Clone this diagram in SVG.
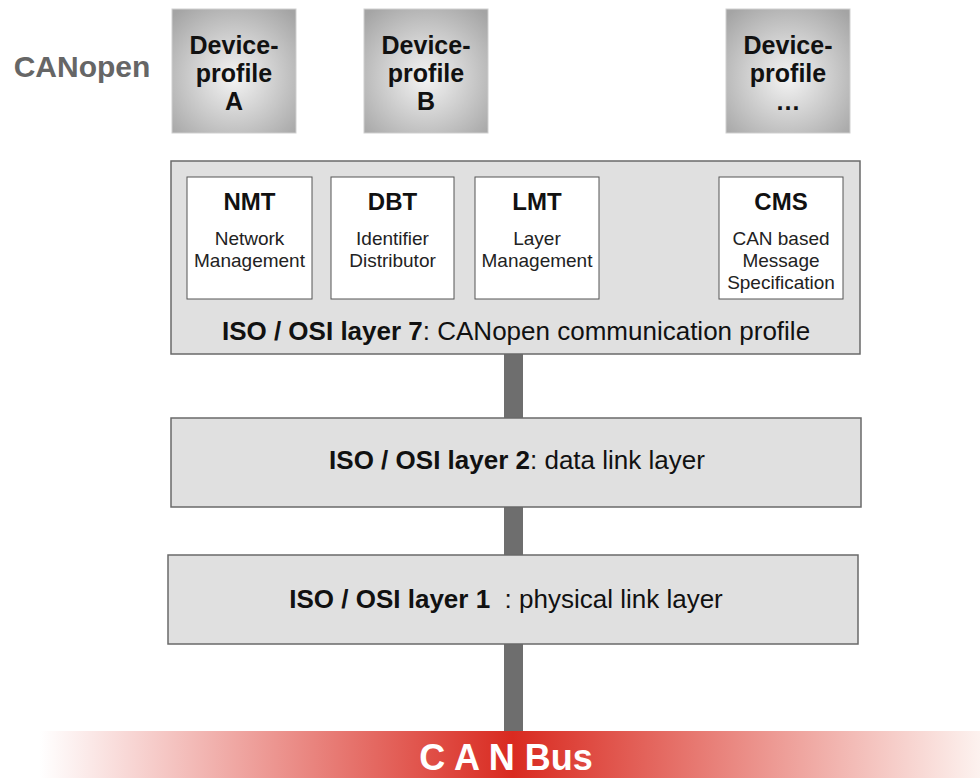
<svg xmlns="http://www.w3.org/2000/svg" width="980" height="778" viewBox="0 0 980 778">
<defs>
<radialGradient id="dev" cx="50%" cy="55%" r="70%">
<stop offset="0" stop-color="#f4f4f4"/>
<stop offset="1" stop-color="#a4a4a4"/>
</radialGradient>
<linearGradient id="bus" gradientUnits="userSpaceOnUse" x1="40" y1="0" x2="985" y2="0">
<stop offset="0" stop-color="#ffffff"/>
<stop offset="0.5" stop-color="#d92a20"/>
<stop offset="1" stop-color="#fdf4f1"/>
</linearGradient>
<style>
text{font-family:"Liberation Sans",Arial,sans-serif;}
.dev{fill:url(#dev);stroke:#cfcfcf;stroke-width:1;}
.devt{font-size:25px;font-weight:bold;fill:#111;text-anchor:middle;}
.layer{fill:#e0e0e0;stroke:#6a6a6a;stroke-width:1.5;}
.sub{fill:#ffffff;stroke:#555;stroke-width:1;}
.subt{font-size:24px;font-weight:bold;fill:#111;text-anchor:middle;}
.subs{font-size:19px;fill:#222;text-anchor:middle;}
.lt{font-size:26px;fill:#111;text-anchor:middle;}
.b{font-weight:bold;}
.bar{fill:#6e6e6e;}
</style>
</defs>
<rect width="980" height="778" fill="#ffffff"/>
<text id="canopen-label" x="82" y="77" font-size="30" font-weight="bold" fill="#666" text-anchor="middle">CANopen</text>
<g id="connectors">
<rect class="bar" x="504" y="354" width="19" height="64"/>
<rect class="bar" x="504" y="507" width="19" height="48"/>
<rect class="bar" x="504" y="644" width="19" height="88"/>
</g>
<g id="device-a">
<rect class="dev" x="172" y="9" width="124" height="124"/>
<text class="devt" x="234" y="54">Device-</text>
<text class="devt" x="234" y="82">profile</text>
<text class="devt" x="234" y="110">A</text>
</g>
<g id="device-b">
<rect class="dev" x="364" y="9" width="124" height="124"/>
<text class="devt" x="426" y="54">Device-</text>
<text class="devt" x="426" y="82">profile</text>
<text class="devt" x="426" y="110">B</text>
</g>
<g id="device-n">
<rect class="dev" x="726" y="9" width="124" height="124"/>
<text class="devt" x="788" y="54">Device-</text>
<text class="devt" x="788" y="82">profile</text>
<text class="devt" x="788" y="110">…</text>
</g>
<g id="layer7">
<rect class="layer" x="171" y="161" width="689" height="193"/>
<text class="lt" x="516" y="340"><tspan class="b">ISO / OSI layer 7</tspan>: CANopen communication profile</text>
</g>
<g id="nmt">
<rect class="sub" x="187" y="177" width="125" height="122"/>
<text class="subt" x="249.5" y="210">NMT</text>
<text class="subs" x="249.5" y="245">Network</text>
<text class="subs" x="249.5" y="267">Management</text>
</g>
<g id="dbt">
<rect class="sub" x="331" y="177" width="123" height="122"/>
<text class="subt" x="392.5" y="210">DBT</text>
<text class="subs" x="392.5" y="245">Identifier</text>
<text class="subs" x="392.5" y="267">Distributor</text>
</g>
<g id="lmt">
<rect class="sub" x="475" y="177" width="124" height="122"/>
<text class="subt" x="537" y="210">LMT</text>
<text class="subs" x="537" y="245">Layer</text>
<text class="subs" x="537" y="267">Management</text>
</g>
<g id="cms">
<rect class="sub" x="719" y="177" width="124" height="122"/>
<text class="subt" x="781" y="210">CMS</text>
<text class="subs" x="781" y="245">CAN based</text>
<text class="subs" x="781" y="267">Message</text>
<text class="subs" x="781" y="289">Specification</text>
</g>
<g id="layer2">
<rect class="layer" x="171" y="418" width="690" height="89"/>
<text class="lt" x="517" y="469"><tspan class="b">ISO / OSI layer 2</tspan>: data link layer</text>
</g>
<g id="layer1">
<rect class="layer" x="168" y="555" width="690" height="89"/>
<text class="lt" x="506" y="608" xml:space="preserve"><tspan class="b">ISO / OSI layer 1</tspan>  : physical link layer</text>
</g>
<g id="canbus">
<rect x="40" y="731" width="945" height="47" fill="url(#bus)"/>
<text x="506" y="770" font-size="36" font-weight="bold" fill="#ffffff" text-anchor="middle" xml:space="preserve">C A N Bus</text>
</g>
</svg>
